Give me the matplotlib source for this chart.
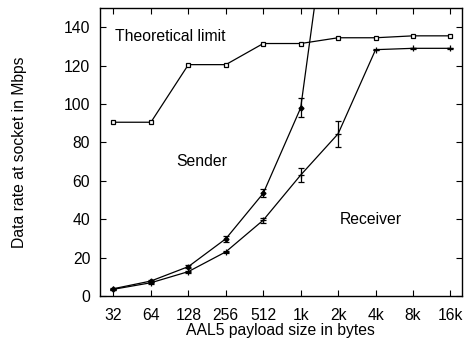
import numpy as np
import matplotlib
matplotlib.use("Agg")
import matplotlib.pyplot as plt

plt.rcParams['font.family'] = ['Liberation Sans', 'DejaVu Sans']

sizes = ["32", "64", "128", "256", "512", "1k", "2k", "4k", "8k", "16k"]

# theoretical limit
limit = [90.5, 90.5, 120.5, 120.5, 131.5, 131.5, 134.5, 134.5, 135.5, 135.5]

# sender (runs off the top after 1k)
sender = [3.8, 7.8, 15.3, 29.8, 53.5, 98.0, 241.0]
sender_err = [0.5, 0.6, 0.8, 1.5, 2.0, 5.0, 0.0]

# receiver
receiver = [3.5, 6.9, 12.7, 23.0, 39.5, 63.0, 84.5, 128.3, 129.0, 129.0]
receiver_err = [0.3, 0.4, 0.5, 0.6, 1.3, 3.5, 6.8, 0.3, 0.2, 0.2]

x = np.arange(len(sizes))
fs = 11.3

fig = plt.figure(figsize=(4.65, 3.38), dpi=100)
ax = fig.add_axes([100 / 465, (338 - 296) / 338, 361.7 / 465, 288 / 338])

ax.plot(x, limit, color='black', lw=0.9, marker='s', ms=3.5, mfc='white', mec='black', mew=0.9)
ax.errorbar(x[:len(sender)], sender, yerr=sender_err, color='black', lw=0.9,
            marker='D', ms=2.5, capsize=2.5, elinewidth=0.9, capthick=0.9)
ax.errorbar(x, receiver, yerr=receiver_err, color='black', lw=0.9,
            marker='+', ms=4, mew=0.9, capsize=2.5, elinewidth=0.9, capthick=0.9)

ax.text(0.04, 135, "Theoretical limit", fontsize=fs, va='center', ha='left')
ax.text(2.35, 70, "Sender", fontsize=fs, va='center', ha='center')
ax.text(6.86, 39.6, "Receiver", fontsize=fs, va='center', ha='center')

ax.set_xlim(-0.36, 9.3)
ax.set_ylim(0, 150)
ax.set_xticks(x)
ax.set_xticklabels(sizes)
ax.set_yticks(np.arange(0, 141, 20))
ax.tick_params(direction='in', top=True, right=True, length=4, labelsize=fs)
ax.tick_params(axis='x', pad=9)
ax.tick_params(axis='y', labelright=False, pad=7)
for s in ax.spines.values():
    s.set_linewidth(1.0)

ax.set_xlabel("AAL5 payload size in bytes", fontsize=fs)
ax.xaxis.set_label_coords(0.5, -0.095)
ax.set_ylabel("Data rate at socket in Mbps", fontsize=fs)
ax.yaxis.set_label_coords(-0.202, 0.5)

fig.savefig("out.png", dpi=100)
